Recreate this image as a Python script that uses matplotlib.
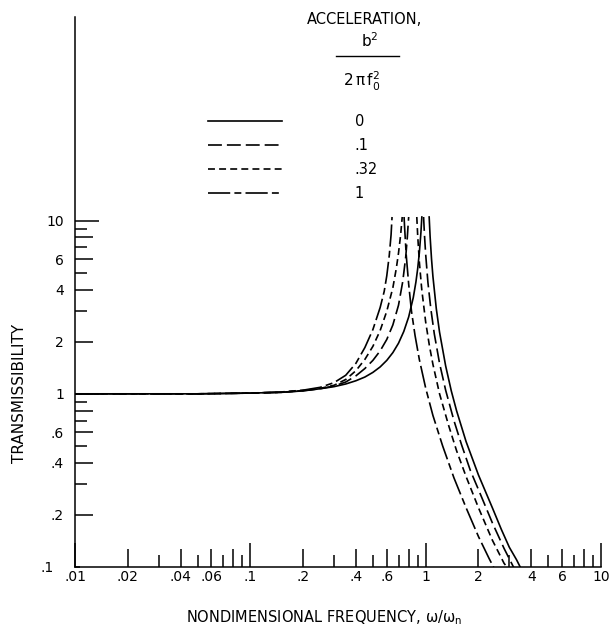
import numpy as np
import matplotlib
matplotlib.use('Agg')
import matplotlib.pyplot as plt
from matplotlib.lines import Line2D
from matplotlib.ticker import FixedLocator, FixedFormatter, NullLocator

plt.rcParams['font.family'] = 'DejaVu Sans'
plt.rcParams['mathtext.default'] = 'regular'
plt.rcParams['lines.scale_dashes'] = False

# acceleration values (legend labels)
accel_labels = ['0', '.1', '.32', '1']

# acceleration 0 - below and above resonance
f_a0_rise = [0.01, 0.05, 0.1, 0.15, 0.2, 0.25, 0.3, 0.35, 0.4, 0.45, 0.5, 0.55, 0.6, 0.65,
             0.7, 0.75, 0.8, 0.85, 0.88, 0.9, 0.92, 0.94, 0.951]
t_a0_rise = [1.0, 1.0, 1.01, 1.02, 1.04, 1.07, 1.10, 1.14, 1.19, 1.25, 1.33, 1.43, 1.56, 1.73,
             1.96, 2.29, 2.78, 3.6, 4.43, 5.26, 6.5, 8.6, 10.5]
f_a0_fall = [1.047, 1.06, 1.08, 1.1, 1.15, 1.2, 1.3, 1.4, 1.5, 1.7, 2.0, 2.4, 2.7, 3.0, 3.3, 3.55]
t_a0_fall = [10.5, 8.1, 6.0, 4.76, 3.1, 2.27, 1.45, 1.04, 0.80, 0.53, 0.34, 0.22, 0.165, 0.13, 0.11, 0.095]

# acceleration .1
f_a1_rise = [0.01, 0.05, 0.1, 0.15, 0.2, 0.25, 0.3, 0.35, 0.4, 0.45, 0.5, 0.55, 0.6, 0.65,
             0.7, 0.74, 0.77, 0.785, 0.795, 0.8]
t_a1_rise = [1.0, 1.0, 1.01, 1.02, 1.043, 1.07, 1.11, 1.17, 1.27, 1.40, 1.56, 1.77, 2.06, 2.5,
             3.25, 4.45, 6.2, 7.9, 9.6, 10.5]
f_a1_fall = [0.973, 0.985, 1.0, 1.03, 1.07, 1.12, 1.2, 1.3, 1.45, 1.6, 1.8, 2.0, 2.4, 2.8, 3.25]
t_a1_fall = [10.5, 8.2, 6.4, 4.4, 3.1, 2.22, 1.50, 1.05, 0.70, 0.51, 0.36, 0.28, 0.18, 0.128, 0.095]

# acceleration .32
f_a2_rise = [0.01, 0.05, 0.1, 0.15, 0.2, 0.25, 0.3, 0.35, 0.4, 0.45, 0.5, 0.55, 0.6, 0.65,
             0.68, 0.7, 0.72, 0.735]
t_a2_rise = [1.0, 1.0, 1.01, 1.02, 1.045, 1.075, 1.12, 1.21, 1.36, 1.58, 1.88, 2.32, 3.0, 4.1,
             5.3, 6.5, 8.3, 10.5]
f_a2_fall = [0.89, 0.9, 0.92, 0.95, 1.0, 1.05, 1.1, 1.2, 1.35, 1.5, 1.7, 2.0, 2.4, 2.8, 3.1]
t_a2_fall = [10.5, 8.3, 5.8, 4.0, 2.6, 1.9, 1.48, 1.0, 0.66, 0.47, 0.333, 0.22, 0.143, 0.105, 0.092]

# acceleration 1
f_a3_rise = [0.01, 0.05, 0.1, 0.15, 0.2, 0.25, 0.3, 0.35, 0.4, 0.45, 0.5, 0.55, 0.58, 0.6,
             0.62, 0.635, 0.643]
t_a3_rise = [1.0, 1.0, 1.01, 1.025, 1.05, 1.09, 1.16, 1.28, 1.50, 1.85, 2.35, 3.15, 3.9, 4.8,
             6.3, 8.3, 10.5]
f_a3_fall = [0.753, 0.76, 0.775, 0.8, 0.83, 0.87, 0.92, 1.0, 1.1, 1.25, 1.45, 1.7, 2.0, 2.3, 2.6]
t_a3_fall = [10.5, 8.8, 6.3, 4.3, 3.0, 2.17, 1.58, 1.08, 0.75, 0.50, 0.327, 0.22, 0.15, 0.112, 0.088]

# tick positions and labels
x_ticks = [.01, .02, .03, .04, .05, .06, .07, .08, .09, .1, .2, .3, .4, .5, .6, .7, .8, .9,
           1, 2, 3, 4, 5, 6, 7, 8, 9, 10]
x_labels = ['.01', '.02', '', '.04', '', '.06', '', '', '', '.1', '.2', '', '.4', '', '.6', '', '', '',
            '1', '2', '', '4', '', '6', '', '', '', '10']
y_ticks = [.1, .2, .3, .4, .5, .6, .7, .8, .9, 1, 2, 3, 4, 5, 6, 7, 8, 9, 10]
y_labels = ['.1', '.2', '', '.4', '', '.6', '', '', '', '1', '2', '', '4', '', '6', '', '', '', '10']

curves = [
    (f_a0_rise, t_a0_rise, f_a0_fall, t_a0_fall, '-'),
    (f_a1_rise, t_a1_rise, f_a1_fall, t_a1_fall, (0, (10, 3.6))),
    (f_a2_rise, t_a2_rise, f_a2_fall, t_a2_fall, (0, (5, 3))),
    (f_a3_rise, t_a3_rise, f_a3_fall, t_a3_fall, (0, (16, 3, 5, 3))),
]


def tick_len(v):
    # decades long, even multiples medium, odd ones short
    m = int(round(v / 10 ** np.floor(np.log10(v) + 1e-9)))
    if m == 1:
        return 17
    return 13 if m % 2 == 0 else 8.5


fig = plt.figure(figsize=(6.16, 6.27), dpi=100)
ax = fig.add_axes([75 / 616, 60 / 627, 526 / 616, 550 / 627])

handles = []
for (fr, tr, ff, tf, ls), lab in zip(curves, accel_labels):
    h, = ax.plot(fr, tr, color='k', lw=1.2, linestyle=ls, label=lab)
    ax.plot(ff, tf, color='k', lw=1.2, linestyle=ls)
    handles.append(h)

ax.set_xscale('log')
ax.set_yscale('log')
ax.set_xlim(0.01, 10)
ax.set_ylim(0.1, 150)

for s in ['top', 'right']:
    ax.spines[s].set_visible(False)
for s in ['left', 'bottom']:
    ax.spines[s].set_linewidth(1.1)

ax.xaxis.set_major_locator(FixedLocator(x_ticks))
ax.xaxis.set_major_formatter(FixedFormatter(x_labels))
ax.xaxis.set_minor_locator(NullLocator())
ax.yaxis.set_major_locator(FixedLocator(y_ticks))
ax.yaxis.set_major_formatter(FixedFormatter(y_labels))
ax.yaxis.set_minor_locator(NullLocator())

ax.tick_params(axis='both', which='major', direction='in', width=1.1, labelsize=10)
ax.tick_params(axis='x', pad=2)
ax.tick_params(axis='y', pad=8)

for t, v in zip(ax.xaxis.get_major_ticks(), x_ticks):
    t.tick1line.set_markersize(tick_len(v))
yt = ax.yaxis.get_major_ticks()
for t, v in zip(yt, y_ticks):
    t.tick1line.set_markersize(tick_len(v))
yt[0].set_pad(15)  # the .1 label sits further out, clear of .01

fig.text(324 / 616, 5 / 627, 'NONDIMENSIONAL FREQUENCY, $\\omega/\\omega_n$', ha='center',
         va='baseline', fontsize=10.5)
fig.text(20 / 616, 1 - 393 / 627, 'TRANSMISSIBILITY', rotation=90, ha='center', va='center',
         fontsize=11)

# legend heading
fig.text(365 / 616, 1 - 20 / 627, 'ACCELERATION,', ha='center', va='center', fontsize=10.5)
fig.text(370 / 616, 1 - 41 / 627, 'b$^2$', ha='center', va='center', fontsize=11)
fig.add_artist(Line2D([336 / 616, 399 / 616], [1 - 56 / 627, 1 - 56 / 627], color='k', lw=1))
fig.text(362 / 616, 1 - 81 / 627, '2$\\,\\pi\\,$f$_0^2$', ha='center', va='center', fontsize=11)

ax.legend(handles, accel_labels, loc='upper left', bbox_to_anchor=(208 / 616, 1 - 114 / 627),
          bbox_transform=fig.transFigure, frameon=False, fontsize=10.5, handlelength=5.07,
          handletextpad=5.0, labelspacing=0.62, borderpad=0, borderaxespad=0)

fig.savefig('out.png', dpi=100)
